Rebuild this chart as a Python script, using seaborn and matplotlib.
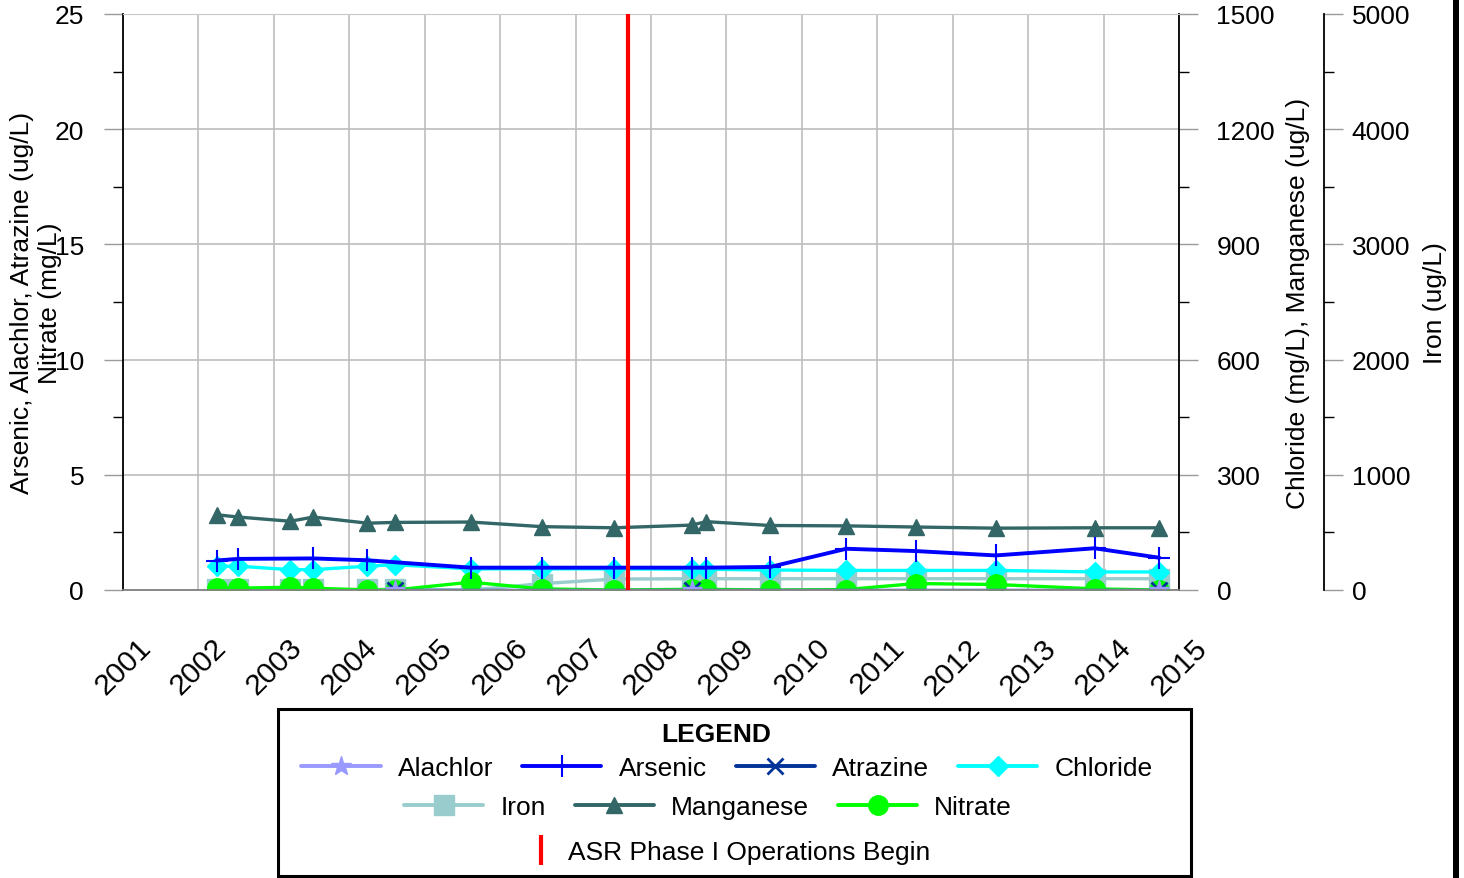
import numpy as np
import matplotlib
matplotlib.use("Agg")
import matplotlib.pyplot as plt
from matplotlib.lines import Line2D
from matplotlib.patches import Rectangle
import seaborn as sns

# sampling dates (decimal years)
dates = [2002.24, 2002.53, 2003.22, 2003.52, 2004.24, 2004.60, 2005.61, 2006.55, 2007.51,
         2008.54, 2008.73, 2009.58, 2010.59, 2011.51, 2012.57, 2013.88, 2014.74]

# left axis: ug/L (arsenic, alachlor, atrazine), mg/L (nitrate)
arsenic_dates = [2002.24, 2002.53, 2003.52, 2004.24, 2005.61, 2006.55, 2007.51, 2008.54,
                 2008.73, 2009.58, 2010.59, 2011.51, 2012.57, 2013.88, 2014.74]
arsenic = [1.28, 1.35, 1.37, 1.29, 0.97, 0.97, 0.97, 0.97, 0.97, 1.0, 1.79, 1.69, 1.50, 1.81, 1.40]
pest_dates = [2004.60, 2008.54, 2014.74]
alachlor = [0, 0, 0]
atrazine = [0, 0, 0]
nitrate = [0.07, 0.08, 0.12, 0.08, 0.0, 0.0, 0.34, 0.05, 0.0,
           0.03, 0.03, 0.0, 0.02, 0.28, 0.24, 0.05, 0.0]

# right axis 1: chloride (mg/L), manganese (ug/L)
chloride = [62, 62, 53, 53, 62, 66, 55, 55, 55, 54, 54, 52, 51, 51, 51, 47, 47]
manganese = [196, 190, 179, 190, 174, 176, 177, 165, 162, 169, 178, 168, 167, 164, 161, 162, 162]

# right axis 2: iron (ug/L)
iron = [5, 5, 5, 5, 5, 5, 0, 55, 95, 98, 98, 98, 98, 98, 98, 98, 98]

asr_start = 2007.69
years = list(range(2001, 2016))

colors = {
    "Alachlor": "#9999ff", "Arsenic": "#0000ff", "Atrazine": "#003399",
    "Chloride": "#00ffff", "Iron": "#99cccc", "Manganese": "#336666",
    "Nitrate": "#00ff00",
}
markers = {
    "Alachlor": ("*", 15, 1), "Arsenic": ("+", 16, 1.5), "Atrazine": ("x", 11, 2),
    "Chloride": ("D", 10, 1), "Iron": ("s", 14, 1), "Manganese": ("^", 12, 1),
    "Nitrate": ("o", 14, 1),
}

sns.set_style("white")
plt.rcParams["font.family"] = ["Liberation Sans", "DejaVu Sans"]
plt.rcParams["text.color"] = "black"
plt.rcParams["xtick.labelcolor"] = "black"
plt.rcParams["ytick.labelcolor"] = "black"

fig = plt.figure(figsize=(14.64, 8.79), dpi=100)
ax = fig.add_axes([123 / 1464, 288 / 879, 1056 / 1464, 576 / 879])
ax2 = ax.twinx()
ax3 = ax.twinx()

# stacking: iron axis at bottom, chloride/manganese, then left axis on top
ax3.set_zorder(1)
ax2.set_zorder(2)
ax.set_zorder(3)
for a in (ax, ax2, ax3):
    a.patch.set_visible(False)


def draw(a, x, y, name, lw=2.4):
    m, ms, mew = markers[name]
    c = colors[name]
    sns.lineplot(x=x, y=y, ax=a, color=c, lw=lw, marker=m, markersize=ms,
                 markeredgecolor=c, markerfacecolor=c, markeredgewidth=mew)


draw(ax3, dates, iron, "Iron")
draw(ax2, dates, manganese, "Manganese")
draw(ax2, dates, chloride, "Chloride")
draw(ax, dates, nitrate, "Nitrate")
draw(ax, arsenic_dates, arsenic, "Arsenic", lw=2.8)
draw(ax, pest_dates, atrazine, "Atrazine")
draw(ax, pest_dates, alachlor, "Alachlor")
ax.axvline(asr_start, color="#ff0000", lw=3, zorder=10)

# limits and ticks
ax.set_xlim(2001, 2015)
ax.set_xticks(years)
ax.set_xticks(np.arange(2001, 2015.01, 0.25), minor=True)
ax.set_ylim(0, 25)
ax.set_yticks(range(0, 26, 5))
ax.set_yticks(np.arange(0, 25.1, 2.5), minor=True)
ax2.set_ylim(0, 1500)
ax2.set_yticks(range(0, 1501, 300))
ax2.set_yticks(range(0, 1501, 150), minor=True)
ax3.set_ylim(0, 5000)
ax3.set_yticks(range(0, 5001, 1000))
ax3.set_yticks(range(0, 5001, 500), minor=True)

for a in (ax, ax2, ax3):
    a.set_xlabel("")
    a.set_ylabel("")

ax.tick_params(axis="x", which="major", direction="out", length=14, width=1,
               color="#9a9a9a", labelsize=21.5, labelrotation=45, pad=17)
ax.tick_params(axis="x", which="minor", direction="out", length=7, width=1, color="black")
ax.tick_params(axis="y", which="major", direction="out", length=14, width=1,
               color="#9a9a9a", labelsize=19, pad=14, left=True)
ax.tick_params(axis="y", which="minor", direction="out", length=7, width=1,
               color="black", left=True)
for a, p in ((ax2, 13), (ax3, 6)):
    a.tick_params(axis="y", which="major", direction="out", length=14, width=1,
                  color="#9a9a9a", labelsize=19, pad=p, right=True)
    a.tick_params(axis="y", which="minor", direction="out", length=7, width=1,
                  color="black", right=True)

xt = ax.xaxis.get_major_ticks()
xt[0].tick1line.set_color("black")
xt[-1].tick1line.set_color("black")

# grid drawn on the bottom-most axes so the data sits above it
ax3.xaxis.set_visible(True)
ax3.tick_params(axis="x", which="both", length=0, labelbottom=False)
ax3.grid(True, which="major", axis="both", color="#bdbdbd", lw=1.2)
ax.grid(False)
ax2.grid(False)

# spines
for s in ax.spines.values():
    s.set_visible(True)
ax.spines["left"].set_color("black")
ax.spines["left"].set_linewidth(1.3)
ax.spines["bottom"].set_color("#808080")
ax.spines["bottom"].set_linewidth(1.3)
ax.spines["top"].set_color("#c8c8c8")
ax.spines["right"].set_visible(False)
for name in ("left", "top", "bottom"):
    ax2.spines[name].set_visible(False)
    ax3.spines[name].set_visible(False)
ax2.spines["right"].set_visible(True)
ax2.spines["right"].set_color("black")
ax2.spines["right"].set_linewidth(1.3)
ax3.spines["right"].set_visible(True)
ax3.spines["right"].set_position(("axes", 1.1373))
ax3.spines["right"].set_color("black")
ax3.spines["right"].set_linewidth(1.3)

# axis titles
fig.text(36 / 1464, 1 - 303 / 879, "Arsenic, Alachlor, Atrazine (ug/L)\nNitrate (mg/L)",
         rotation=90, ha="center", va="center", multialignment="center", fontsize=19)
fig.text(1298 / 1464, 1 - 303 / 879, "Chloride (mg/L), Manganese (ug/L)",
         rotation=90, ha="center", va="center", fontsize=19)
fig.text(1435 / 1464, 1 - 303 / 879, "Iron (ug/L)",
         rotation=90, ha="center", va="center", fontsize=19)

# legend box built from three centred rows
def proxy(name):
    m, ms, mew = markers[name]
    c = colors[name]
    return Line2D([], [], color=c, lw=2.8, marker=m, markersize=ms, markeredgecolor=c,
                  markerfacecolor=c, markeredgewidth=mew, label=name)


row1 = [proxy(n) for n in ["Alachlor", "Arsenic", "Atrazine", "Chloride"]]
row2 = [proxy(n) for n in ["Iron", "Manganese", "Nitrate"]]
row3 = [Line2D([], [], color="#ff0000", lw=0, marker="|", markersize=22,
               markeredgewidth=3, label="ASR Phase I Operations Begin")]

leg_kw = dict(loc="center", frameon=False, fontsize=19, handlelength=3.0,
              handletextpad=0.65, columnspacing=1.1, borderpad=0, borderaxespad=0)
fig.legend(handles=row1, ncol=4, bbox_to_anchor=(727 / 1464, 1 - 769 / 879), **leg_kw)
fig.legend(handles=row2, ncol=3, bbox_to_anchor=(708 / 1464, 1 - 808 / 879), **leg_kw)
leg_kw.update(handlelength=1.0, handletextpad=0.5)
fig.legend(handles=row3, ncol=1, bbox_to_anchor=(729 / 1464, 1 - 853 / 879), **leg_kw)
fig.text(716 / 1464, 1 - 735 / 879, "LEGEND", ha="center", va="center",
         fontsize=19, fontweight="bold")
fig.add_artist(Rectangle((278 / 1464, 2 / 879), 913 / 1464, 167 / 879,
                         transform=fig.transFigure, fill=False, ec="black", lw=2.2))
fig.add_artist(Rectangle((1453 / 1464, 0), 6 / 1464, 1, transform=fig.transFigure,
                         fc="black", ec="none"))

fig.savefig("out.png", dpi=100, facecolor="white")
